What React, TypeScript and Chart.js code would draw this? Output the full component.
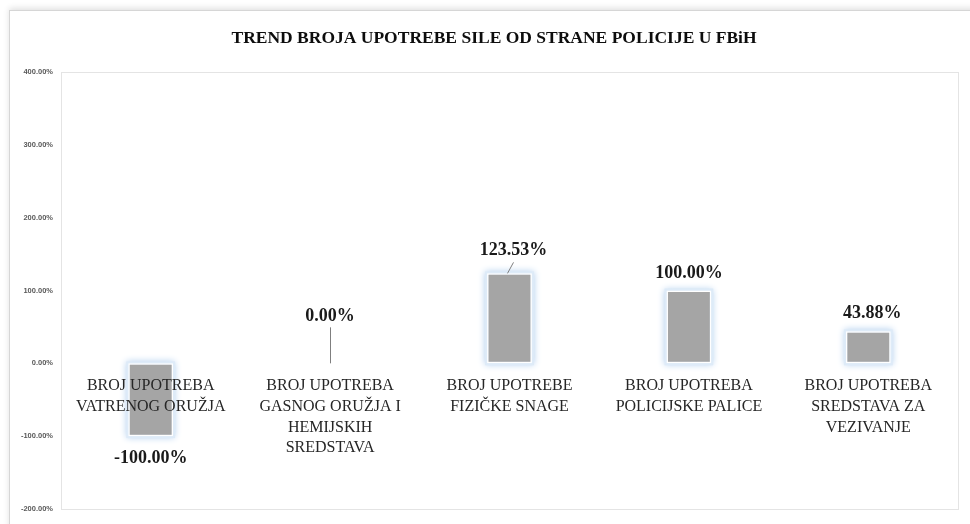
import React, { useEffect, useRef } from "react";
import { Chart, registerables } from "chart.js";

Chart.register(...registerables);

const TITLE = "TREND BROJA UPOTREBE SILE OD STRANE POLICIJE U FBiH";
const CATEGORIES: string[][] = [
  ["BROJ UPOTREBA", "VATRENOG ORUŽJA"],
  ["BROJ UPOTREBA", "GASNOG ORUŽJA I", "HEMIJSKIH", "SREDSTAVA"],
  ["BROJ UPOTREBE", "FIZIČKE SNAGE"],
  ["BROJ UPOTREBA", "POLICIJSKE PALICE"],
  ["BROJ UPOTREBA", "SREDSTAVA ZA", "VEZIVANJE"],
];
const VALUES: number[] = [-100, 0, 123.53, 100, 43.88];
const Y_MIN = -200;
const Y_MAX = 400;
const Y_STEP = 100;
// extra lift of the value label above the bar end (px), and whether a leader line is drawn
const LABEL_LIFT = [22, 47, 23, 17, 18];
const LABEL_DX = [0, 0, 4, 0, 4];
const LEADER = [false, true, true, false, false];

const fmt = (v: number) => v.toFixed(2) + "%";

const titlePlugin = {
  id: "customTitle",
  afterDraw(chart: any) {
    const ctx = chart.ctx;
    ctx.save();
    ctx.font = "bold 17.5px 'Liberation Serif', serif";
    ctx.fillStyle = "#0d0d0d";
    ctx.textAlign = "center";
    ctx.textBaseline = "middle";
    ctx.fillText(TITLE, 494, 38);
    ctx.restore();
  },
};

const plotBorderPlugin = {
  id: "plotBorder",
  beforeDatasetsDraw(chart: any) {
    const { ctx, chartArea } = chart;
    ctx.save();
    ctx.strokeStyle = "#e4e4e4";
    ctx.lineWidth = 1;
    ctx.strokeRect(
      Math.round(chartArea.left) + 0.5,
      Math.round(chartArea.top) + 0.5,
      Math.round(chartArea.right - chartArea.left),
      Math.round(chartArea.bottom - chartArea.top)
    );
    // glow behind each bar
    const meta = chart.getDatasetMeta(0);
    meta.data.forEach((el: any, i: number) => {
      if (VALUES[i] === 0) return;
      const { x, y, base, width } = el.getProps(["x", "y", "base", "width"], true);
      const top = Math.min(y, base);
      const h = Math.abs(base - y);
      ctx.save();
      ctx.shadowColor = "rgba(175, 205, 238, 1)";
      ctx.shadowBlur = 7;
      ctx.fillStyle = "rgba(222, 235, 248, 1)";
      ctx.fillRect(x - width / 2 - 2, top - 2, width + 4, h + 4);
      ctx.restore();
    });
    ctx.restore();
  },
  afterDatasetsDraw(chart: any) {
    const ctx = chart.ctx;
    const meta = chart.getDatasetMeta(0);
    ctx.save();
    ctx.font = "bold 18px 'Liberation Serif', serif";
    ctx.fillStyle = "#1a1a1a";
    ctx.textAlign = "center";
    ctx.textBaseline = "middle";
    meta.data.forEach((el: any, i: number) => {
      const v = VALUES[i];
      const x = el.x;
      const y = el.y;
      let ly: number;
      if (v < 0) {
        ly = y + LABEL_LIFT[i];
      } else {
        ly = y - LABEL_LIFT[i];
      }
      const lx = x + LABEL_DX[i];
      if (LEADER[i]) {
        ctx.save();
        ctx.strokeStyle = "#7f7f7f";
        ctx.lineWidth = 1;
        ctx.beginPath();
        if (i === 1) {
          ctx.moveTo(Math.round(x) + 0.5, ly + 11);
          ctx.lineTo(Math.round(x) + 0.5, y);
        } else {
          ctx.moveTo(lx, ly + 12);
          ctx.lineTo(x - 2, y);
        }
        ctx.stroke();
        ctx.restore();
      }
      ctx.fillText(fmt(v), lx, ly);
    });
    ctx.restore();
  },
};

export default function App() {
  const ref = useRef<HTMLCanvasElement | null>(null);
  useEffect(() => {
    if (!ref.current) return;
    const chart = new Chart(ref.current, {
      type: "bar",
      data: {
        labels: CATEGORIES,
        datasets: [
          {
            data: VALUES,
            backgroundColor: "#a5a5a5",
            borderColor: "#ffffff",
            borderWidth: 1.5,
            borderSkipped: false,
            barPercentage: 0.25,
            categoryPercentage: 1,
          },
        ],
      },
      options: {
        animation: false,
        responsive: false,
        maintainAspectRatio: false,
        layout: { padding: { left: 0, top: 72, right: 12, bottom: 15 } },
        plugins: {
          legend: { display: false },
          title: { display: false },
          tooltip: { enabled: false },
        },
        scales: {
          x: {
            position: { y: 0 } as any,
            grid: { display: false, drawTicks: false },
            border: { display: false },
            ticks: {
              z: 1,
              padding: 12,
              maxRotation: 0,
              autoSkip: false,
              color: "#262626",
              font: { family: "'Liberation Serif', serif", size: 16, lineHeight: 1.3 },
            },
          },
          y: {
            min: Y_MIN,
            max: Y_MAX,
            afterFit(scale: any) {
              scale.width = 61;
            },
            grid: { display: false, drawTicks: false },
            border: { display: false },
            ticks: {
              stepSize: Y_STEP,
              padding: 8,
              color: "#595959",
              font: { family: "'Liberation Sans', sans-serif", size: 7.5, weight: "bold" },
              callback: (v: any) => fmt(Number(v)),
            },
          },
        },
      },
      plugins: [plotBorderPlugin, titlePlugin],
    });
    return () => chart.destroy();
  }, []);
  return (
    <div style={{ position: "fixed", left: 0, top: 0, width: 970, height: 524, background: "#fff", overflow: "hidden" }}>
      <div
        style={{
          position: "absolute",
          left: 9,
          top: 10,
          width: 1000,
          height: 600,
          border: "1px solid #d6d6d6",
          boxShadow: "0 -2px 6px rgba(0,0,0,0.12)",
          background: "#fff",
        }}
      />
      <canvas ref={ref} width={970} height={524} style={{ position: "absolute", left: 0, top: 0 }} />
    </div>
  );
}
